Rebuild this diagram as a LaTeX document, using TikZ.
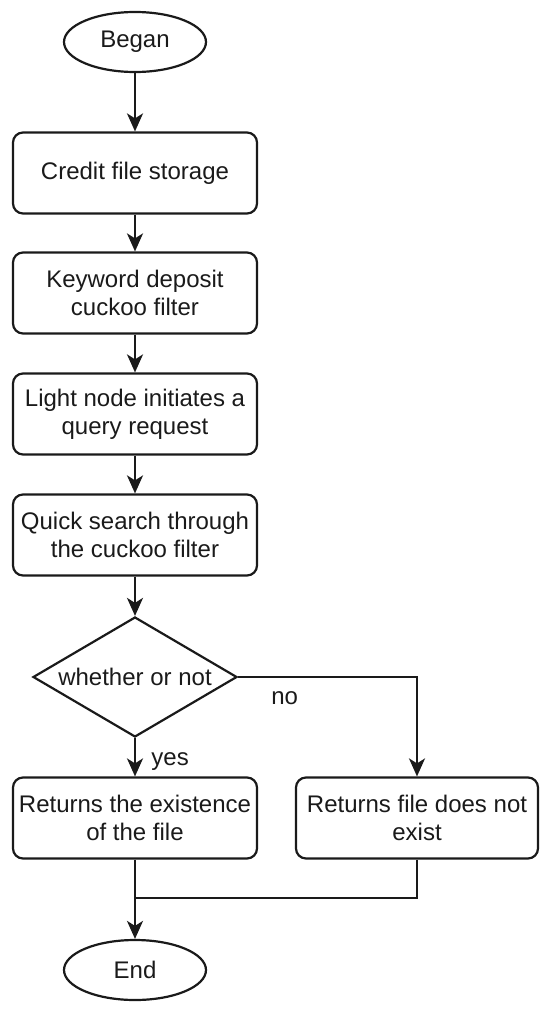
\documentclass[tikz,border=0pt]{standalone}
\usepackage{fontspec}
\setmainfont{Liberation Sans}
\usepackage{tikz}
\usetikzlibrary{positioning,arrows.meta,shapes.geometric}
\definecolor{ink}{HTML}{1A1A1A}

\begin{document}
\begin{tikzpicture}[x=1pt, y=-1pt, line width=2.2pt, draw=ink,
  every node/.style={font=\fontsize{24}{28}\selectfont, text=ink, align=center},
  terminal/.style={draw, ellipse, minimum width=142pt, minimum height=60pt, inner sep=0pt},
  process/.style={draw, rounded corners=10pt, minimum width=244pt, minimum height=81pt, inner sep=0pt},
  decision/.style={draw, diamond, aspect=1.7, minimum width=204pt, minimum height=120pt, inner sep=0pt},
  flow/.style={-{Stealth[length=18pt, width=16pt, inset=5pt]}}]
  \useasboundingbox (0,0) rectangle (550,1012);
  \node[terminal] (began) at (135,42)    {Began};
  \node[process] (store) at (135,173)    {Credit file storage};
  \node[process] (deposit) at (135,293)  {Keyword deposit\\cuckoo filter};
  \node[process] (query) at (135,414)    {Light node initiates a\\query request};
  \node[process] (search) at (135,535)   {Quick search through\\the cuckoo filter};
  \node[decision] (whether) at (135,677) {whether or not};
  \node[process] (exists) at (135,818)   {Returns the existence\\of the file};
  \node[process, minimum width=242pt] (absent) at (417,818) {Returns file does not\\exist};
  \node[terminal] (finish) at (135,970)  {End};
  \coordinate (merge) at (135,898);
  \draw[flow] (began) -- (store);
  \draw[flow] (store) -- (deposit);
  \draw[flow] (deposit) -- (query);
  \draw[flow] (query) -- (search);
  \draw[flow] (search) -- (whether);
  \draw[flow] (whether) -- node[right=12pt, pos=0.6] (yes) {yes} (exists);
  \draw[flow] (whether.east) -| (absent.north) node[pos=0.13, below=10pt] (no) {no};
  \draw (absent.south) |- (merge);
  \draw[flow] (exists) -- (finish);
\end{tikzpicture}
\end{document}
